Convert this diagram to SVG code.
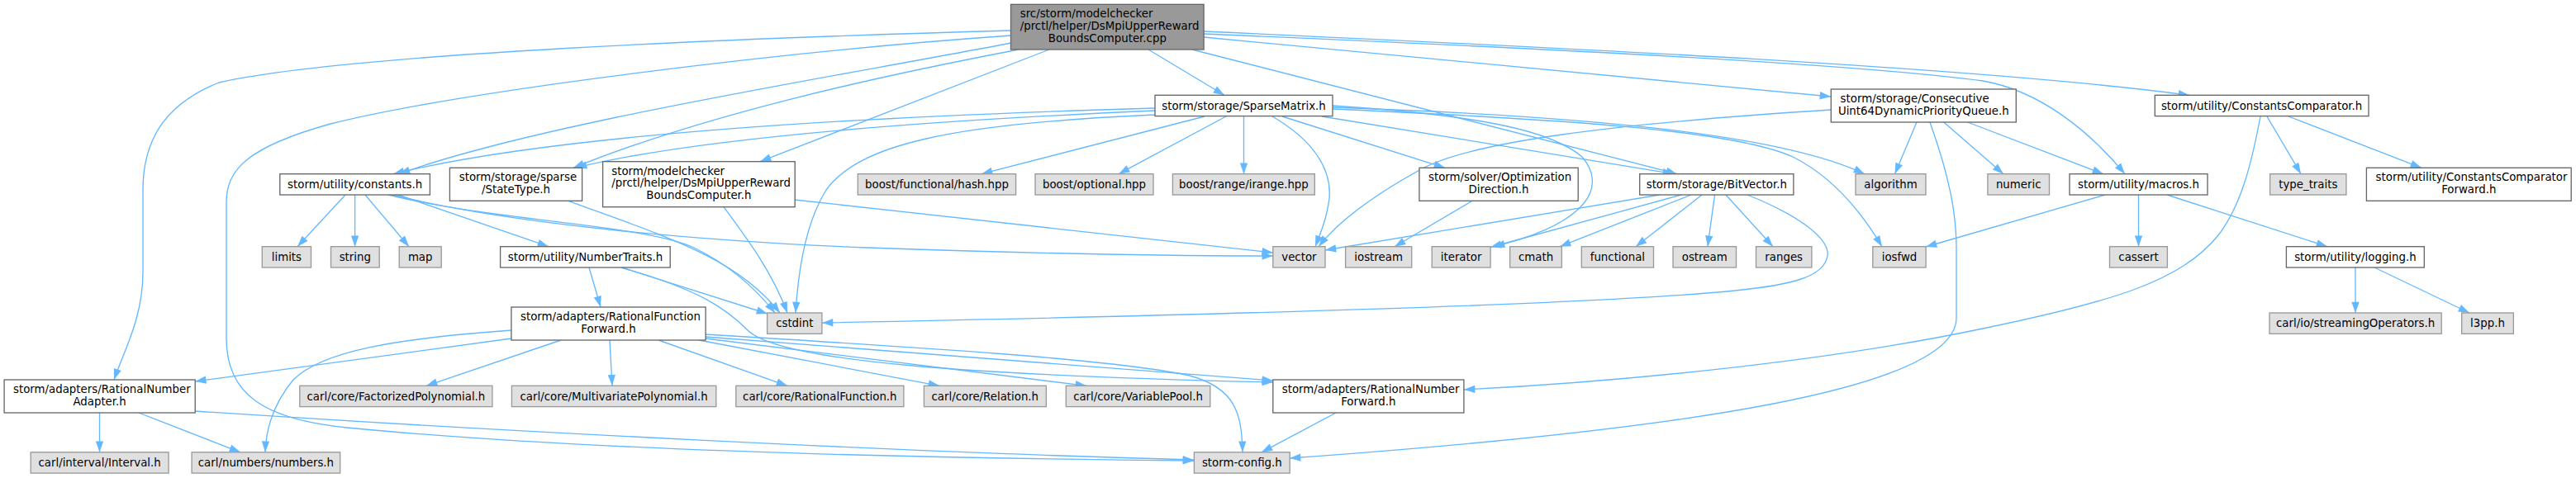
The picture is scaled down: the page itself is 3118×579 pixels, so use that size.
<svg xmlns="http://www.w3.org/2000/svg" width="3118" height="579" viewBox="0 0 3118 579">
<style>
.w rect{fill:#ffffff;stroke:#666666;stroke-width:1.33}
.g rect{fill:#e0e0e0;stroke:#999999;stroke-width:1.33}
.r rect{fill:#999999;stroke:#666666;stroke-width:1.33}
text{font-family:"DejaVu Sans",sans-serif;font-size:13.33px;fill:#000000}
.m{text-anchor:middle}
#edges path{fill:none;stroke:#63b8ff;stroke-width:1.33;marker-end:url(#ah)}
</style>
<defs>
<marker id="ah" markerWidth="14" markerHeight="10" refX="13.3" refY="4.67" orient="auto" markerUnits="userSpaceOnUse" overflow="visible">
<path d="M0,0 L13.3,4.67 L0,9.33 z" fill="#63b8ff"/>
</marker>
</defs>
<rect width="3118" height="579" fill="#ffffff"/>
<g id="edges">
<path d="M1224,37 C900,46 420,65 265,100 C195,128 173,175 173,230 L173,330 C173,385 150,425 138,460"/>
<path d="M1224,43 C950,62 560,110 400,150 C300,178 274,205 274,245 L274,410 C274,478 320,508 420,518 C700,545 1100,555 1445,558"/>
<path d="M1224,52 C1000,95 650,150 483,210.7"/>
<path d="M1233,60 C1050,95 850,140 694,203.3"/>
<path d="M1270,60 L920,195.7"/>
<path d="M1390,60 L1482,115.3"/>
<path d="M1443,60 L2030,210.7"/>
<path d="M1457,45 L2216,117"/>
<path d="M1457,38 C1900,58 2400,82 2650,115.3"/>
<path d="M1457,41 C1900,60 2250,78 2400,98 C2470,110 2530,160 2572,210.7"/>
<path d="M1398,131 C1150,138 700,155 476,210.7"/>
<path d="M1398,134 C1150,145 850,165 697,203.3"/>
<path d="M1398,139 C1150,150 1040,175 1000,230 C975,270 966,330 963,379"/>
<path d="M1540,141 C1590,170 1612,205 1609,240 C1606,265 1598,283 1592,298.7"/>
<path d="M1458,141 L1188,210.7"/>
<path d="M1484,141 L1354,210.7"/>
<path d="M1505.5,141 L1505.5,210.7"/>
<path d="M1552,141 L1749,203.3"/>
<path d="M1600,141 L2026,210.7"/>
<path d="M1613,130 C1900,140 2150,160 2257,210.7"/>
<path d="M1613,132 C1900,145 2100,158 2170,190 C2220,215 2255,260 2278,298.7"/>
<path d="M1613,128 C1800,140 1880,160 1915,190 C1945,225 1925,270 1808,298.7"/>
<path d="M2320,148 L2293.5,210.7"/>
<path d="M2352.8,148 L2425,210.7"/>
<path d="M2381.5,148 L2546,210.7"/>
<path d="M2216,133 C1950,150 1780,172 1720,205 C1660,238 1620,268 1596,298.7"/>
<path d="M2336,148 C2360,215 2368,260 2368,300 L2368,385 C2368,470 2050,520 1561,555"/>
<path d="M2744,141 L2785,210.7"/>
<path d="M2770,141 L2931,203.3"/>
<path d="M2736,141 C2725,200 2712,250 2685,285 C2640,340 2560,365 2400,398 C2200,440 1950,463 1772,472"/>
<path d="M2548,236 L2331,299"/>
<path d="M2588.5,236 L2588.5,298.7"/>
<path d="M2623,236 L2817,298.7"/>
<path d="M2851,324 L2851,379"/>
<path d="M2874,324 L2989,379"/>
<path d="M1782,243.3 L1688,298.7"/>
<path d="M2009,236 L1604,303"/>
<path d="M2035,236 L1804,299.5"/>
<path d="M2047,236 L1888,298.7"/>
<path d="M2060,236 L1980,298.7"/>
<path d="M2075.5,236 L2067,298.7"/>
<path d="M2089,236 L2146,298.7"/>
<path d="M2115,236 C2180,262 2215,290 2212,310 C2208,335 2170,345 2100,352 C1900,372 1300,385 995,391"/>
<path d="M688,243.3 C800,285 890,310 944,379"/>
<path d="M876,250.7 C905,290 935,330 953,379"/>
<path d="M962,242 L1540.8,306"/>
<path d="M418,236 L360,298.7"/>
<path d="M429.6,236 L429.6,298.7"/>
<path d="M442,236 L495,298.7"/>
<path d="M482,236 L664,298.7"/>
<path d="M470,236 C600,268 780,272 840,300 C885,322 915,350 938,379"/>
<path d="M475,236 C620,272 850,292 1050,300 C1250,307 1420,310 1540.8,310"/>
<path d="M752,324 L929,380"/>
<path d="M713,324 L727,372"/>
<path d="M752,324 C850,352 880,375 905,400 C945,440 1200,455 1540.8,463"/>
<path d="M619,410 L236.2,462"/>
<path d="M619,400 C480,410 390,425 355,460 C330,490 322,520 321,547.8"/>
<path d="M679,412 L516,467.3"/>
<path d="M738,412 L741,467.3"/>
<path d="M797,412 L953,467.3"/>
<path d="M846,412 L1137,467.3"/>
<path d="M854,410 L1315,467.3"/>
<path d="M854,408 L1540.8,461"/>
<path d="M854,405 C1100,420 1350,435 1440,455 C1495,470 1503,500 1504,547.8"/>
<path d="M120.5,500 L120.5,547.8"/>
<path d="M168,500 L291,547.8"/>
<path d="M236,498 C600,522 1100,548 1445,557"/>
<path d="M1617,500 L1527,547.8"/>
</g>
<g id="n_root" class="r"><rect x="1223.5" y="5.33" width="233.6" height="54.67"/><text x="1234.7" y="21.3">src/storm/modelchecker</text><text x="1234.7" y="36">/prctl/helper/DsMpiUpperReward</text><text class="m" x="1340.3" y="50.7">BoundsComputer.cpp</text></g>
<g id="n_sparsematrix" class="w"><rect x="1398" y="115.3" width="215" height="25.3"/><text class="m" x="1505.5" y="132.6">storm/storage/SparseMatrix.h</text></g>
<g id="n_consecutive" class="w"><rect x="2216.3" y="108" width="224" height="40"/><text x="2227.6" y="124">storm/storage/Consecutive</text><text class="m" x="2328.3" y="138.7">Uint64DynamicPriorityQueue.h</text></g>
<g id="n_cc" class="w"><rect x="2608.3" y="115.3" width="258.7" height="25.3"/><text class="m" x="2737.6" y="132.6">storm/utility/ConstantsComparator.h</text></g>
<g id="n_constants" class="w"><rect x="338.8" y="210.7" width="181.6" height="25.3"/><text class="m" x="429.6" y="228">storm/utility/constants.h</text></g>
<g id="n_statetype" class="w"><rect x="544.4" y="203.3" width="160.2" height="40"/><text x="555.8" y="219.3">storm/storage/sparse</text><text class="m" x="624.5" y="234">/StateType.h</text></g>
<g id="n_dsmpih" class="w"><rect x="729.6" y="195.7" width="232.6" height="55"/><text x="740.3" y="211.7">storm/modelchecker</text><text x="740.3" y="226.4">/prctl/helper/DsMpiUpperReward</text><text class="m" x="845.9" y="241">BoundsComputer.h</text></g>
<g id="n_hash" class="g"><rect x="1038.3" y="210.7" width="191.3" height="25.3"/><text class="m" x="1134" y="228">boost/functional/hash.hpp</text></g>
<g id="n_optional" class="g"><rect x="1253" y="210.7" width="143" height="25.3"/><text class="m" x="1324.5" y="228">boost/optional.hpp</text></g>
<g id="n_irange" class="g"><rect x="1419.4" y="210.7" width="171.9" height="25.3"/><text class="m" x="1505.4" y="228">boost/range/irange.hpp</text></g>
<g id="n_optdir" class="w"><rect x="1717.9" y="203.3" width="192.3" height="40"/><text x="1729" y="219.3">storm/solver/Optimization</text><text class="m" x="1814" y="234">Direction.h</text></g>
<g id="n_bitvector" class="w"><rect x="1984.7" y="210.7" width="186.2" height="25.3"/><text class="m" x="2077.8" y="228">storm/storage/BitVector.h</text></g>
<g id="n_algorithm" class="g"><rect x="2246" y="210.7" width="85" height="25.3"/><text class="m" x="2288.5" y="228">algorithm</text></g>
<g id="n_numeric" class="g"><rect x="2405.9" y="210.7" width="74.6" height="25.3"/><text class="m" x="2443.2" y="228">numeric</text></g>
<g id="n_macros" class="w"><rect x="2505" y="210.7" width="167" height="25.3"/><text class="m" x="2588.5" y="228">storm/utility/macros.h</text></g>
<g id="n_typetraits" class="g"><rect x="2747.6" y="210.7" width="92.3" height="25.3"/><text class="m" x="2793.8" y="228">type_traits</text></g>
<g id="n_ccfwd" class="w"><rect x="2864.4" y="203.3" width="247.8" height="40"/><text x="2875.6" y="219.3">storm/utility/ConstantsComparator</text><text class="m" x="2988.3" y="234">Forward.h</text></g>
<g id="n_limits" class="g"><rect x="317.3" y="298.7" width="59.2" height="25.3"/><text class="m" x="346.9" y="316">limits</text></g>
<g id="n_string" class="g"><rect x="400.5" y="298.7" width="58.7" height="25.3"/><text class="m" x="429.8" y="316">string</text></g>
<g id="n_map" class="g"><rect x="483.2" y="298.7" width="51" height="25.3"/><text class="m" x="508.7" y="316">map</text></g>
<g id="n_numbertraits" class="w"><rect x="605.6" y="298.7" width="205.6" height="25.3"/><text class="m" x="708.4" y="316">storm/utility/NumberTraits.h</text></g>
<g id="n_vector" class="g"><rect x="1540.8" y="298.7" width="63.2" height="25.3"/><text class="m" x="1572.4" y="316">vector</text></g>
<g id="n_iostream" class="g"><rect x="1628.6" y="298.7" width="80.1" height="25.3"/><text class="m" x="1668.6" y="316">iostream</text></g>
<g id="n_iterator" class="g"><rect x="1733.2" y="298.7" width="70.9" height="25.3"/><text class="m" x="1768.6" y="316">iterator</text></g>
<g id="n_cmath" class="g"><rect x="1827.6" y="298.7" width="62.7" height="25.3"/><text class="m" x="1859" y="316">cmath</text></g>
<g id="n_functional" class="g"><rect x="1914.3" y="298.7" width="87.2" height="25.3"/><text class="m" x="1957.9" y="316">functional</text></g>
<g id="n_ostream" class="g"><rect x="2025" y="298.7" width="76.5" height="25.3"/><text class="m" x="2063.2" y="316">ostream</text></g>
<g id="n_ranges" class="g"><rect x="2125.5" y="298.7" width="67.4" height="25.3"/><text class="m" x="2159.2" y="316">ranges</text></g>
<g id="n_iosfwd" class="g"><rect x="2266.8" y="298.7" width="64.3" height="25.3"/><text class="m" x="2299" y="316">iosfwd</text></g>
<g id="n_cassert" class="g"><rect x="2553.5" y="298.7" width="69.9" height="25.3"/><text class="m" x="2588.5" y="316">cassert</text></g>
<g id="n_logging" class="w"><rect x="2767.4" y="298.7" width="166.9" height="25.3"/><text class="m" x="2850.9" y="316">storm/utility/logging.h</text></g>
<g id="n_cstdint" class="g"><rect x="928.6" y="379" width="66.3" height="25.3"/><text class="m" x="961.8" y="396.3">cstdint</text></g>
<g id="n_rff" class="w"><rect x="618.9" y="372" width="235.2" height="40"/><text x="630" y="388">storm/adapters/RationalFunction</text><text class="m" x="736.5" y="402.7">Forward.h</text></g>
<g id="n_streaming" class="g"><rect x="2747" y="379" width="208.2" height="25.3"/><text class="m" x="2851.1" y="396.3">carl/io/streamingOperators.h</text></g>
<g id="n_l3pp" class="g"><rect x="2979.7" y="379" width="62.6" height="25.3"/><text class="m" x="3011" y="396.3">l3pp.h</text></g>
<g id="n_rna" class="w"><rect x="5.1" y="460" width="231.1" height="40"/><text x="16" y="476">storm/adapters/RationalNumber</text><text class="m" x="120.6" y="490.7">Adapter.h</text></g>
<g id="n_fp" class="g"><rect x="362.8" y="467.3" width="233.1" height="25.3"/><text class="m" x="479.4" y="484.6">carl/core/FactorizedPolynomial.h</text></g>
<g id="n_mp" class="g"><rect x="619.4" y="467.3" width="247.4" height="25.3"/><text class="m" x="743.1" y="484.6">carl/core/MultivariatePolynomial.h</text></g>
<g id="n_rf" class="g"><rect x="890.8" y="467.3" width="203.1" height="25.3"/><text class="m" x="992.3" y="484.6">carl/core/RationalFunction.h</text></g>
<g id="n_rel" class="g"><rect x="1118.4" y="467.3" width="147.9" height="25.3"/><text class="m" x="1192.3" y="484.6">carl/core/Relation.h</text></g>
<g id="n_vp" class="g"><rect x="1290.3" y="467.3" width="174.5" height="25.3"/><text class="m" x="1377.5" y="484.6">carl/core/VariablePool.h</text></g>
<g id="n_rnfwd" class="w"><rect x="1540.8" y="460" width="231.1" height="40"/><text x="1551.8" y="476">storm/adapters/RationalNumber</text><text class="m" x="1656.3" y="490.7">Forward.h</text></g>
<g id="n_interval" class="g"><rect x="37.2" y="547.8" width="166.9" height="25.3"/><text class="m" x="120.6" y="565.1">carl/interval/Interval.h</text></g>
<g id="n_numbers" class="g"><rect x="232.1" y="547.8" width="179.6" height="25.3"/><text class="m" x="321.9" y="565.1">carl/numbers/numbers.h</text></g>
<g id="n_stormconfig" class="g"><rect x="1445.4" y="547.8" width="115.8" height="25.3"/><text class="m" x="1503.3" y="565.1">storm-config.h</text></g>
</svg>
